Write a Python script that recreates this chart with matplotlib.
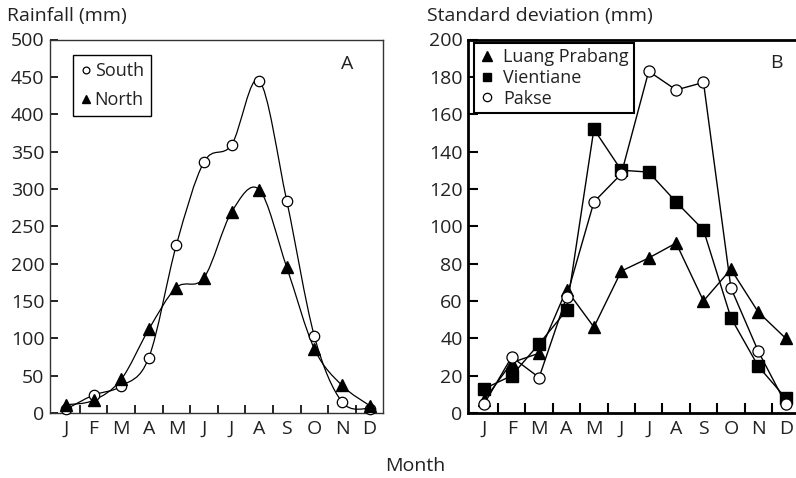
import numpy as np
import matplotlib
matplotlib.use("Agg")
import matplotlib.pyplot as plt
from matplotlib.path import Path
from matplotlib.patches import PathPatch

plt.rcParams['font.family'] = ['Open Sans', 'DejaVu Sans']
plt.rcParams['font.size'] = 14
plt.rcParams['text.color'] = '#222222'
plt.rcParams['xtick.color'] = '#222222'
plt.rcParams['ytick.color'] = '#222222'

months = ['J', 'F', 'M', 'A', 'M', 'J', 'J', 'A', 'S', 'O', 'N', 'D']

# panel A - mean rainfall (mm)
south = [5, 24, 36, 74, 225, 336, 359, 445, 284, 103, 15, 6]
north = [11, 17, 45, 112, 168, 181, 269, 299, 195, 86, 37, 10]

# panel B - standard deviation (mm)
luang_prabang = [7, 27, 32, 66, 46, 76, 83, 91, 60, 77, 54, 40]
vientiane = [13, 20, 37, 55, 152, 130, 129, 113, 98, 51, 25, 8]
pakse = [5, 30, 19, 62, 113, 128, 183, 173, 177, 67, 33, 5]


def SMOOTH_PATH(xs, ys):
	# catmull-rom curve through the points, as bezier segments
	xs = np.asarray(xs, float)
	ys = np.asarray(ys, float)
	pts = np.column_stack([xs, ys])
	verts = [pts[0]]
	codes = [Path.MOVETO]
	n = len(pts)
	for i in range(n - 1):
		p0 = pts[i - 1] if i > 0 else pts[i]
		p1 = pts[i]
		p2 = pts[i + 1]
		p3 = pts[i + 2] if i + 2 < n else pts[i + 1]
		c1 = p1 + (p2 - p0) / 6.0
		c2 = p2 - (p3 - p1) / 6.0
		verts += [c1, c2, p2]
		codes += [Path.CURVE4] * 3
	return Path(verts, codes)


fig = plt.figure(figsize=(7.96, 4.78), dpi=100)
x = np.arange(12)

# ---------- panel A ----------
axA = fig.add_axes([50 / 796, 65 / 478, 332.5 / 796, 373.5 / 478])
for ys in (south, north):
	axA.add_patch(PathPatch(SMOOTH_PATH(x, ys), facecolor='none', edgecolor='black', lw=0.9, transform=axA.transData))
axA.plot(x, south, ls='none', marker='o', ms=7.5, mfc='white', mec='black', mew=0.9, label='South', clip_on=False, zorder=3)
axA.plot(x, north, ls='none', marker='^', ms=8, mfc='black', mec='black', label='North', clip_on=False, zorder=3)
axA.set_xlim(-0.58, 11.47)
axA.set_ylim(0, 500)
axA.set_yticks(np.arange(0, 501, 50))
axA.set_xticks(x)
axA.set_xticklabels(months)
axA.set_xticks(np.arange(0.5, 11, 1), minor=True)
axA.tick_params(axis='x', which='major', length=0, pad=5)
axA.tick_params(axis='x', which='minor', direction='in', length=6, width=1.2, color='black')
axA.tick_params(axis='y', direction='in', length=6, width=1.2, color='black', pad=4)
for s in axA.spines.values():
	s.set_linewidth(1.0)
	s.set_color('#333333')
axA.text(0.895, 0.935, 'A', transform=axA.transAxes, ha='center', va='center')
legA = axA.legend(loc='upper left', bbox_to_anchor=(0.069, 0.958), borderaxespad=0, fancybox=False,
	edgecolor='black', framealpha=1, handlelength=0.6, handletextpad=0.2, labelspacing=0.6,
	borderpad=0.4, markerscale=0.65, fontsize=13)
legA.get_frame().set_linewidth(1.0)
fig.text(7 / 796, 1 - 16 / 478, 'Rainfall (mm)', ha='left', va='center')

# ---------- panel B ----------
axB = fig.add_axes([468.3 / 796, 65 / 478, 327.7 / 796, 373.5 / 478])
axB.plot(x, luang_prabang, color='black', lw=1.0, marker='^', ms=9, mfc='black', label='Luang Prabang', clip_on=False, zorder=3)
axB.plot(x, vientiane, color='black', lw=1.0, marker='s', ms=8.5, mfc='black', label='Vientiane', clip_on=False, zorder=3)
axB.plot(x, pakse, color='black', lw=1.0, marker='o', ms=8, mfc='white', mec='black', mew=0.9, label='Pakse', clip_on=False, zorder=4)
axB.set_xlim(-0.584, 11.376)
axB.set_ylim(0, 200)
axB.set_yticks(np.arange(0, 201, 20))
axB.set_xticks(x)
axB.set_xticklabels(months)
axB.set_xticks(np.arange(0.5, 11, 1), minor=True)
axB.tick_params(axis='x', which='major', length=0, pad=5)
axB.tick_params(axis='x', which='minor', direction='in', length=7, width=1.5, color='black')
axB.tick_params(axis='y', direction='in', length=7, width=1.5, color='black', pad=4)
axB.spines['right'].set_visible(False)
for k in ('left', 'bottom', 'top'):
	axB.spines[k].set_linewidth(2.0)
	axB.spines[k].set_color('black')
axB.text(0.94, 0.937, 'B', transform=axB.transAxes, ha='center', va='center')
legB = axB.legend(loc='upper left', bbox_to_anchor=(0.017, 0.991), borderaxespad=0, fancybox=False,
	edgecolor='black', framealpha=1, handlelength=0.8, handletextpad=0.5, labelspacing=0.15,
	borderpad=0.3, markerscale=0.75, fontsize=13)
for h in legB.get_lines():
	h.set_linestyle('none')
legB.get_frame().set_linewidth(1.5)
fig.text(427 / 796, 1 - 16 / 478, 'Standard deviation (mm)', ha='left', va='center')

fig.text(415 / 796, 1 - 466 / 478, 'Month', ha='center', va='center')

fig.savefig('out.png', dpi=100)
